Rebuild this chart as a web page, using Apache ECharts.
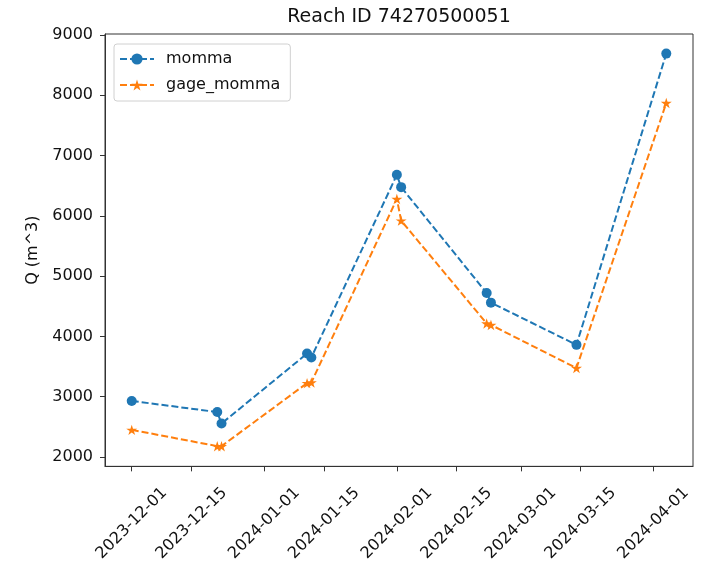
<!DOCTYPE html>
<html>
<head>
<meta charset="utf-8">
<script src="https://cdn.jsdelivr.net/npm/echarts@6/dist/echarts.min.js"></script>
<style>
  html, body { margin: 0; padding: 0; background: #fff; }
  #chart { width: 712px; height: 564px; }
</style>
</head>
<body>
<div id="chart"></div>
<script>
// data
const dates = ['2023-12-01', '2023-12-21', '2023-12-22', '2024-01-11', '2024-01-12',
  '2024-02-01', '2024-02-02', '2024-02-22', '2024-02-23', '2024-03-14', '2024-04-04'];
const momma = [2930, 2745, 2555, 3715, 3650, 6680, 6475, 4720, 4560, 3860, 8690];
const gageMomma = [2450, 2180, 2180, 3225, 3235, 6280, 5920, 4215, 4190, 3475, 7870];
const xTicks = ['2023-12-01', '2023-12-15', '2024-01-01', '2024-01-15', '2024-02-01',
  '2024-02-15', '2024-03-01', '2024-03-15', '2024-04-01'];
const yTicks = [2000, 3000, 4000, 5000, 6000, 7000, 8000, 9000];

const FONT = 'DejaVu Sans';
const toTs = s => +new Date(s + 'T00:00:00');
const STAR = 'path://M100,0 L122.34,69.26 L195.11,69.10 L136.14,111.74 L158.78,180.90 L100,138 L41.22,180.90 L63.86,111.74 L4.89,69.10 L77.66,69.26 Z';

// matplotlib-like 5% margins
const t0 = toTs(dates[0]), t1 = toTs(dates[dates.length - 1]);
const pad = (t1 - t0) * 0.05;

const chart = echarts.init(document.getElementById('chart'));
chart.setOption({
  animation: false,
  backgroundColor: '#fff',
  textStyle: { fontFamily: FONT },
  title: {
    text: 'Reach ID 74270500051',
    left: 399,
    top: 8,
    padding: 0,
    textAlign: 'center',
    textStyle: { fontFamily: FONT, fontSize: 19, fontWeight: 'normal', color: '#111' }
  },
  legend: {
    orient: 'vertical',
    left: 114,
    top: 44,
    padding: [7, 10, 8, 5],
    itemGap: 10,
    itemWidth: 34,
    itemHeight: 14,
    borderColor: '#d0d0d0',
    borderWidth: 1,
    borderRadius: 3,
    backgroundColor: 'rgba(255,255,255,0.8)',
    textStyle: { fontFamily: FONT, fontSize: 16, color: '#111', padding: [0, 0, 0, 7] },
    data: ['momma', 'gage_momma']
  },
  grid: {
    left: 105, right: 19, top: 34, bottom: 92,
    show: true, borderColor: '#333', borderWidth: 1
  },
  xAxis: {
    type: 'value',
    min: t0 - pad,
    max: t1 + pad,
    splitLine: { show: false },
    axisLine: { lineStyle: { color: '#333' } },
    axisTick: { show: true, length: 5, lineStyle: { color: '#333' }, customValues: xTicks.map(toTs) },
    axisLabel: {
      customValues: xTicks.map(toTs),
      rotate: 45,
      align: 'center',
      verticalAlign: 'middle',
      margin: 57,
      fontFamily: FONT,
      fontSize: 16,
      color: '#111',
      formatter: v => echarts.time.format(v, '{yyyy}-{MM}-{dd}', false)
    }
  },
  yAxis: {
    type: 'value',
    min: 1845,
    max: 9015,
    name: 'Q (m^3)',
    nameLocation: 'middle',
    nameGap: 64,
    nameTextStyle: { fontFamily: FONT, fontSize: 16, color: '#111' },
    splitLine: { show: false },
    axisLine: { show: true, lineStyle: { color: '#333' } },
    axisTick: { show: true, length: 5, lineStyle: { color: '#333' }, customValues: yTicks },
    axisLabel: {
      customValues: yTicks, margin: 12, fontFamily: FONT, fontSize: 16, color: '#111',
      formatter: v => String(v)
    }
  },
  series: [
    {
      name: 'momma',
      type: 'line',
      data: dates.map((d, i) => [toTs(d), momma[i]]),
      symbol: 'circle',
      symbolSize: 10,
      showAllSymbol: true,
      color: '#1f77b4',
      lineStyle: { width: 2, type: [7, 3], color: '#1f77b4' },
      itemStyle: { color: '#1f77b4' }
    },
    {
      name: 'gage_momma',
      type: 'line',
      data: dates.map((d, i) => [toTs(d), gageMomma[i]]),
      symbol: STAR,
      symbolSize: 11,
      symbolKeepAspect: true,
      showAllSymbol: true,
      color: '#ff7f0e',
      lineStyle: { width: 2, type: [7, 3], color: '#ff7f0e' },
      itemStyle: { color: '#ff7f0e' }
    }
  ]
});
</script>
</body>
</html>
